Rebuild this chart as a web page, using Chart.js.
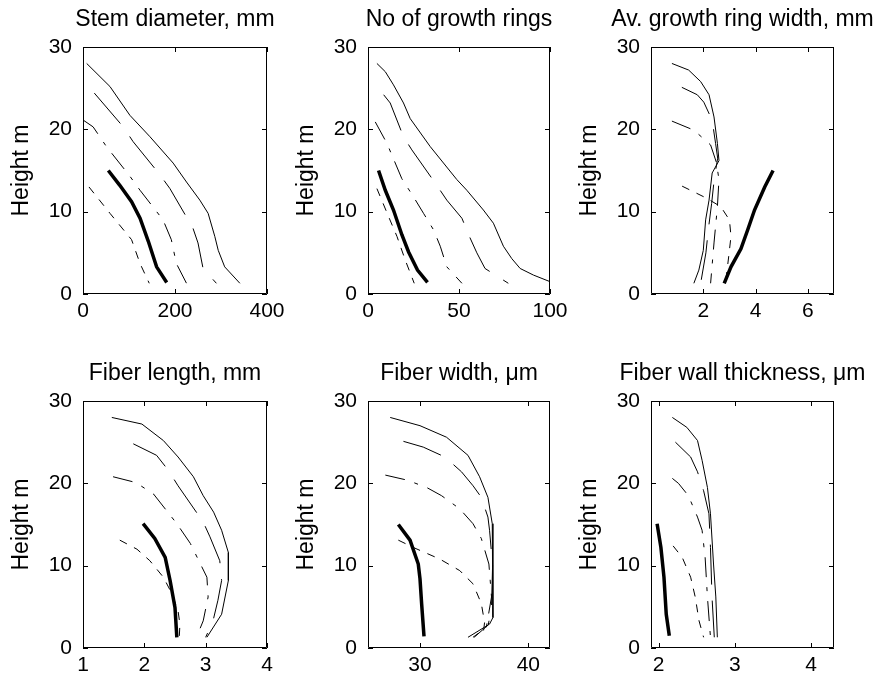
<!DOCTYPE html>
<html>
<head>
<meta charset="utf-8">
<script src="https://cdn.jsdelivr.net/npm/chart.js@4.4.0/dist/chart.umd.min.js"></script>
<style>
  html, body { margin: 0; padding: 0; background: #fff; overflow: hidden; }
  body { width: 875px; height: 680px; position: relative; }
  .panel { position: absolute; }
</style>
</head>
<body>
<div class="panel" id="p0"><canvas id="c0"></canvas></div>
<div class="panel" id="p1"><canvas id="c1"></canvas></div>
<div class="panel" id="p2"><canvas id="c2"></canvas></div>
<div class="panel" id="p3"><canvas id="c3"></canvas></div>
<div class="panel" id="p4"><canvas id="c4"></canvas></div>
<div class="panel" id="p5"><canvas id="c5"></canvas></div>
<script>
// panel titles and ticks
const titles = ["Stem diameter, mm", "No of growth rings", "Av. growth ring width, mm",
  "Fiber length, mm", "Fiber width, \u03bcm", "Fiber wall thickness, \u03bcm"];
const yLabel = "Height m";
const heightTicks = [0, 10, 20, 30];
const xTicks = [[0, 200, 400], [0, 50, 100], [2, 4, 6], [1, 2, 3, 4], [30, 40], [2, 3, 4]];
const xLimits = [[0, 400], [0, 100], [0, 7], [1, 4], [25.2, 42], [1.9, 4.3]];

// each panel: 5 trees, points are [value, height m]
const stemDiameter = [
  [[8, 28], [58.6, 25.2], [102, 21.7], [145.6, 19.1], [196, 15.9], [225, 13.6], [254, 11.4], [272, 9.8], [286.5, 7.0], [294, 5.3], [308, 3.3], [341, 1.3]],
  [[24.6, 24.4], [87.5, 20.3], [109, 18.5], [167, 14.5], [189, 12.8], [239, 8.0], [250, 6.2], [261, 3.1], [290, 1.3]],
  [[1, 21.1], [22, 20.3], [51, 17.9], [102, 14.3], [124, 12.6], [174, 9.0], [192, 6.6], [203, 3.7], [225, 1.3]],
  [[13, 13.0], [58.6, 9.8], [105.6, 6.6], [124, 3.7], [144, 1.3]],
  [[55, 15.0], [80, 13.2], [105.6, 11.2], [124, 9.2], [142, 6.4], [160, 3.3], [182, 1.4]]
];
const growthRings = [
  [[4.9, 28.0], [9.5, 27.0], [14, 25.4], [19.5, 23.2], [23.2, 21.3], [34.2, 17.9], [48.8, 13.9], [54.3, 12.6], [63.4, 10.2], [68.9, 8.6], [74.4, 5.8], [79, 4.3], [83.6, 3.1], [90.9, 2.3], [100, 1.5]],
  [[8.6, 24.2], [12.2, 23.2], [19.5, 19.1], [24.1, 17.5], [37.8, 13.2], [43.3, 11.4], [51.6, 9.2], [56.1, 6.8], [59.8, 5.0], [64.3, 3.1], [77.1, 1.3]],
  [[4, 20.9], [10.4, 18.3], [18.6, 14.0], [25, 11.8], [30.5, 9.8], [36, 7.8], [39.7, 5.8], [43.3, 3.3], [51.6, 1.3]],
  [[4.9, 12.8], [11.3, 9.4], [15.9, 7.0], [20.5, 4.1], [25.4, 1.3]],
  [[5.8, 15.0], [9.5, 12.6], [14, 10.2], [18.6, 7.2], [22.3, 5.1], [27.2, 2.9], [32.7, 1.4]]
];
const ringWidth = [
  [[0.8, 28], [1.44, 27.2], [1.9, 25.8], [2.22, 24.2], [2.41, 21.5], [2.54, 18.3], [2.6, 16.2], [2.34, 14.7], [2.22, 11.4], [2.09, 9.0], [2.0, 5.3], [1.83, 2.9], [1.64, 1.3]],
  [[1.18, 25.1], [1.77, 24.2], [2.02, 23.3], [2.34, 21.1], [2.47, 18.3], [2.55, 16.5], [2.42, 14], [2.32, 11], [2.2, 8], [2.1, 5], [1.9, 1.3]],
  [[0.8, 21.0], [1.64, 19.9], [2.28, 18.1], [2.5, 16], [2.6, 13.9], [2.54, 10.6], [2.41, 6.2], [2.28, 1.3]],
  [[1.19, 13.1], [1.64, 12.4], [2.15, 11.6], [2.67, 10.6], [3.0, 9.0], [3.06, 7.0], [2.97, 4.5], [2.85, 1.3]],
  [[4.67, 15], [4.35, 13], [3.96, 10.2], [3.7, 7.8], [3.44, 5.5], [3.06, 3.3], [2.8, 1.3]]
];
const fiberLength = [
  [[1.47, 28.0], [1.96, 27.2], [2.31, 25.2], [2.55, 23.2], [2.80, 20.8], [2.96, 18.5], [3.13, 16.5], [3.26, 14.3], [3.37, 11.6], [3.37, 8.2], [3.26, 4.1], [3.02, 1.3]],
  [[1.82, 24.8], [2.20, 23.4], [2.39, 21.6], [2.55, 19.7], [2.96, 15.3], [3.07, 13.5], [3.23, 10.6], [3.26, 8.2], [3.20, 5.8], [3.12, 3.3], [3.0, 1.3]],
  [[1.49, 20.8], [1.86, 20.1], [2.15, 18.7], [2.53, 15.1], [2.75, 12.7], [3.02, 8.6], [3.04, 6.2], [2.96, 3.3], [2.85, 1.3]],
  [[1.60, 13.1], [1.88, 12.0], [2.09, 10.6], [2.31, 8.6], [2.45, 6.6], [2.55, 4.5], [2.58, 2.9], [2.57, 1.3]],
  [[1.98, 15.1], [2.17, 13.3], [2.34, 11.0], [2.42, 8.2], [2.50, 4.9], [2.53, 1.3]]
];
const fiberWidth = [
  [[27.25, 28.0], [30.0, 27.0], [32.45, 25.6], [34.43, 23.4], [35.5, 20.8], [36.27, 18.3], [36.67, 15.1], [36.73, 10.2], [36.73, 3.7], [36.42, 2.9], [34.43, 1.3]],
  [[28.47, 25.1], [30.3, 24.4], [32.3, 23.2], [33.83, 21.4], [34.9, 19.7], [35.66, 18.3], [36.27, 15.9], [36.42, 14.3], [36.7, 10], [36.6, 5], [36.3, 2.8], [35.0, 1.3]],
  [[26.8, 21.0], [28.78, 20.4], [30.61, 19.5], [31.99, 18.5], [33.67, 16.9], [34.89, 15.1], [35.66, 13.3], [36.36, 10.2], [36.6, 6.2], [36.12, 2.5], [34.89, 1.3]],
  [[28.0, 13.1], [29.4, 12.2], [31.83, 10.8], [33.67, 9.4], [34.89, 7.8], [35.66, 5.4], [35.96, 3.1], [35.8, 1.3]],
  [[28.0, 15.0], [29.08, 13.1], [29.84, 10.2], [30.0, 8.4], [30.15, 5.4], [30.37, 1.4]]
];
const wallThickness = [
  [[2.18, 28.0], [2.37, 26.8], [2.51, 25.2], [2.57, 22.8], [2.64, 19.5], [2.68, 16.3], [2.72, 10.2], [2.75, 6.2], [2.77, 1.3]],
  [[2.22, 25.0], [2.42, 23.2], [2.51, 21.4], [2.59, 19.1], [2.66, 16.3], [2.68, 12.2], [2.70, 6.2], [2.73, 1.3]],
  [[2.18, 20.6], [2.26, 20.0], [2.39, 18.5], [2.51, 15.9], [2.57, 14.3], [2.61, 11.0], [2.64, 6.2], [2.68, 1.3]],
  [[2.19, 12.4], [2.31, 11.0], [2.42, 8.6], [2.48, 6.2], [2.53, 3.3], [2.59, 1.3]],
  [[1.98, 15.1], [2.03, 12.2], [2.07, 8.6], [2.10, 4.1], [2.14, 1.5]]
];

const panelData = [stemDiameter, growthRings, ringWidth, fiberLength, fiberWidth, wallThickness];

// line look for the 5 trees: solid, long dash, dash-dot, short dash, thick
const lineStyles = [
  { width: 1, dash: [] },
  { width: 1, dash: [40, 16] },
  { width: 1, dash: [20, 10, 4, 10] },
  { width: 1, dash: [8, 8] },
  { width: 3.5, dash: [] }
];

// layout of the 2x3 grid (plot box positions)
const boxLefts = [83, 368, 651];
const boxWidths = [184, 182, 183];
const boxTops = [47, 401];
const boxHeight = 247;
const side = 83, above = 47, below = 40;

Chart.defaults.font.family = "'Liberation Sans', Arial, sans-serif";
Chart.defaults.color = "#000";

// full frame with inward ticks, like matlab axes
const framePlugin = {
  id: "frame",
  afterDatasetsDraw(chart) {
    const { ctx, chartArea: a, scales } = chart;
    const x = scales.x, y = scales.y;
    ctx.save();
    ctx.strokeStyle = "#000";
    ctx.lineWidth = 1;
    ctx.beginPath();
    ctx.rect(a.left + 0.5, a.top + 0.5, a.width - 1, a.height - 1);
    x.ticks.forEach(t => {
      const px = Math.round(x.getPixelForValue(t.value)) + 0.5;
      ctx.moveTo(px, a.bottom); ctx.lineTo(px, a.bottom - 5);
      ctx.moveTo(px, a.top); ctx.lineTo(px, a.top + 5);
    });
    y.ticks.forEach(t => {
      const py = Math.round(y.getPixelForValue(t.value)) + 0.5;
      ctx.moveTo(a.left, py); ctx.lineTo(a.left + 5, py);
      ctx.moveTo(a.right, py); ctx.lineTo(a.right - 5, py);
    });
    ctx.stroke();
    ctx.restore();
  }
};

panelData.forEach((series, i) => {
  const row = Math.floor(i / 3), col = i % 3;
  const div = document.getElementById("p" + i);
  const canvas = document.getElementById("c" + i);
  const w = boxWidths[col] + side * 2;
  const h = boxHeight + above + below;
  div.style.left = (boxLefts[col] - side) + "px";
  div.style.top = (boxTops[row] - above) + "px";
  canvas.width = w;
  canvas.height = h;

  new Chart(canvas, {
    type: "line",
    data: {
      datasets: series.map((pts, k) => ({
        data: pts.map(p => ({ x: p[0], y: p[1] })),
        borderColor: "#000",
        borderWidth: lineStyles[k].width,
        borderDash: lineStyles[k].dash,
        pointRadius: 0,
        tension: 0,
        fill: false
      }))
    },
    options: {
      responsive: false,
      animation: false,
      events: [],
      layout: { padding: 0 },
      plugins: {
        legend: { display: false },
        tooltip: { enabled: false },
        title: {
          display: true,
          text: titles[i],
          font: { size: 23, weight: "normal" },
          color: "#000",
          padding: { top: 6, bottom: 13.4 }
        }
      },
      scales: {
        x: {
          type: "linear",
          min: xLimits[i][0],
          max: xLimits[i][1],
          grid: { display: false, drawTicks: false },
          border: { display: false },
          afterBuildTicks: s => { s.ticks = xTicks[i].map(v => ({ value: v })); },
          afterFit: s => { s.height = below; },
          ticks: { font: { size: 21 }, color: "#000", padding: 5, maxRotation: 0, autoSkip: false }
        },
        y: {
          type: "linear",
          min: 0,
          max: 30,
          grid: { display: false, drawTicks: false },
          border: { display: false },
          afterBuildTicks: s => { s.ticks = heightTicks.map(v => ({ value: v })); },
          afterFit: s => { s.width = side; },
          ticks: { font: { size: 21 }, color: "#000", padding: 11 },
          title: { display: true, text: yLabel, font: { size: 23 }, color: "#000", padding: { top: 8, bottom: 0 } }
        },
        yr: {
          type: "linear",
          position: "right",
          min: 0,
          max: 30,
          grid: { display: false, drawTicks: false },
          border: { display: false },
          ticks: { display: false },
          afterFit: s => { s.width = side; }
        }
      }
    },
    plugins: [framePlugin]
  });
});
</script>
</body>
</html>
